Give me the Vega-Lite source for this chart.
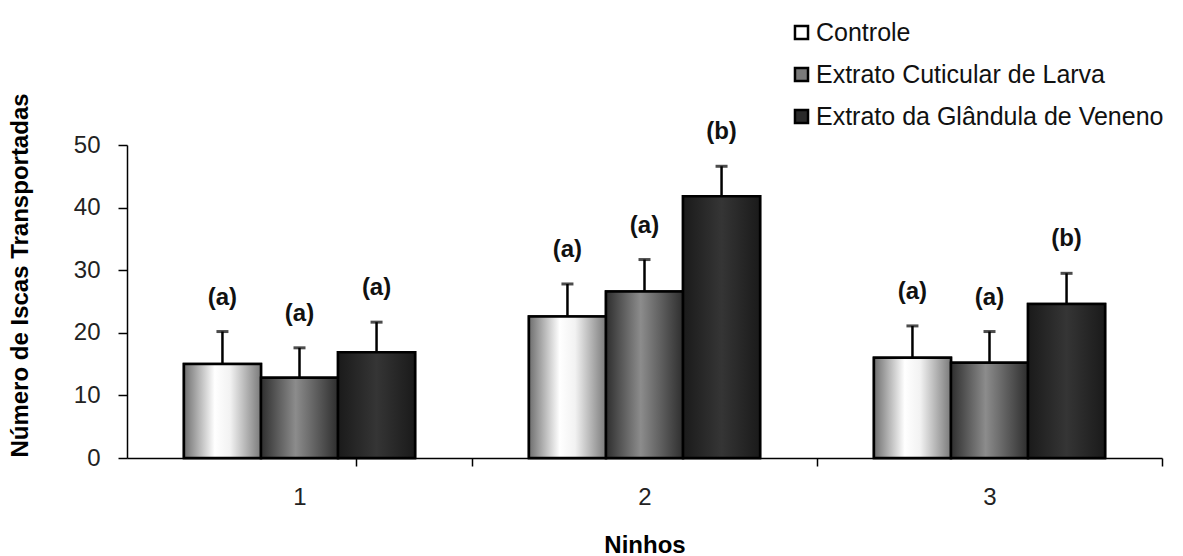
{
  "$schema": "https://vega.github.io/schema/vega-lite/v6.json",
  "autosize": "none",
  "width": 1035,
  "height": 313,
  "padding": {"left": 127, "top": 145, "right": 21, "bottom": 98},
  "background": "white",
  "config": {
    "view": {"stroke": null},
    "font": "Liberation Sans",
    "axis": {"domainColor": "black", "tickColor": "black", "domainWidth": 1.5, "tickWidth": 1.5, "grid": false, "labelFont": "Liberation Sans", "titleFont": "Liberation Sans", "labelColor": "#222", "titleColor": "black"}
  },
  "data": {"values": [
    {"ninho": "1", "tratamento": "Controle", "media": 15.0, "superior": 20.2, "letra": "(a)"},
    {"ninho": "1", "tratamento": "Extrato Cuticular de Larva", "media": 12.8, "superior": 17.6, "letra": "(a)"},
    {"ninho": "1", "tratamento": "Extrato da Glândula de Veneno", "media": 16.9, "superior": 21.7, "letra": "(a)"},
    {"ninho": "2", "tratamento": "Controle", "media": 22.6, "superior": 27.8, "letra": "(a)"},
    {"ninho": "2", "tratamento": "Extrato Cuticular de Larva", "media": 26.6, "superior": 31.7, "letra": "(a)"},
    {"ninho": "2", "tratamento": "Extrato da Glândula de Veneno", "media": 41.8, "superior": 46.6, "letra": "(b)"},
    {"ninho": "3", "tratamento": "Controle", "media": 16.0, "superior": 21.1, "letra": "(a)"},
    {"ninho": "3", "tratamento": "Extrato Cuticular de Larva", "media": 15.2, "superior": 20.2, "letra": "(a)"},
    {"ninho": "3", "tratamento": "Extrato da Glândula de Veneno", "media": 24.6, "superior": 29.5, "letra": "(b)"}
  ]},
  "encoding": {
    "x": {"field": "ninho", "type": "nominal", "scale": {"paddingInner": 0.33, "paddingOuter": 0.165},
      "axis": {"title": "Ninhos", "labelAngle": 0, "labelFontSize": 24, "labelPadding": 19, "tickSize": 8, "tickOffset": 172.5, "labelOffset": -172.5, "tickExtra": true, "titleFontSize": 24, "titleFontWeight": "bold", "titleY": 94, "titleBaseline": "alphabetic"}},
    "xOffset": {"field": "tratamento", "type": "nominal", "scale": {"domain": ["Controle", "Extrato Cuticular de Larva", "Extrato da Glândula de Veneno"], "paddingInner": 0, "paddingOuter": 0}}
  },
  "layer": [
    {
      "mark": {"type": "bar", "stroke": "black", "strokeWidth": 2.5},
      "encoding": {
        "y": {"field": "media", "type": "quantitative", "scale": {"domain": [0, 50], "nice": false},
          "axis": {"title": "Número de Iscas Transportadas", "values": [0, 10, 20, 30, 40, 50], "labelFontSize": 24, "labelPadding": 18, "tickSize": 9, "titleFontSize": 24, "titleFontWeight": "bold", "titleX": -107, "titleY": 130, "titleAngle": -90, "titleAlign": "center", "titleBaseline": "middle"}},
        "color": {"field": "tratamento", "type": "nominal",
          "scale": {"domain": ["Controle", "Extrato Cuticular de Larva", "Extrato da Glândula de Veneno"], "range": ["#ffffff", "#7a7a7a", "#2a2a2a"]},
          "legend": {"title": null, "orient": "none", "legendX": 662, "legendY": -125, "symbolType": "square", "symbolSize": 170, "symbolStrokeColor": "black", "symbolStrokeWidth": 2.5, "labelFontSize": 25, "labelColor": "#111", "labelOffset": 2, "rowPadding": 16, "labelLimit": 0, "padding": 0}}
      }
    },
    {
      "transform": [{"filter": "datum.tratamento == 'Controle'"}],
      "mark": {"type": "bar", "stroke": "black", "strokeWidth": 2.5,
        "fill": {"gradient": "linear", "x1": 0, "x2": 1, "y1": 0, "y2": 0, "stops": [{"offset": 0, "color": "#6e6e6e"}, {"offset": 0.4, "color": "#ffffff"}, {"offset": 0.6, "color": "#f2f2f2"}, {"offset": 1, "color": "#7a7a7a"}]}},
      "encoding": {"y": {"field": "media", "type": "quantitative"}}
    },
    {
      "transform": [{"filter": "datum.tratamento == 'Extrato Cuticular de Larva'"}],
      "mark": {"type": "bar", "stroke": "black", "strokeWidth": 2.5,
        "fill": {"gradient": "linear", "x1": 0, "x2": 1, "y1": 0, "y2": 0, "stops": [{"offset": 0, "color": "#2e2e2e"}, {"offset": 0.45, "color": "#8c8c8c"}, {"offset": 1, "color": "#2e2e2e"}]}},
      "encoding": {"y": {"field": "media", "type": "quantitative"}}
    },
    {
      "transform": [{"filter": "datum.tratamento == 'Extrato da Glândula de Veneno'"}],
      "mark": {"type": "bar", "stroke": "black", "strokeWidth": 2.5,
        "fill": {"gradient": "linear", "x1": 0, "x2": 1, "y1": 0, "y2": 0, "stops": [{"offset": 0, "color": "#1a1a1a"}, {"offset": 0.5, "color": "#353535"}, {"offset": 1, "color": "#1a1a1a"}]}},
      "encoding": {"y": {"field": "media", "type": "quantitative"}}
    },
    {
      "mark": {"type": "rule", "color": "black", "strokeWidth": 2.5},
      "encoding": {"y": {"field": "media", "type": "quantitative"}, "y2": {"field": "superior"}}
    },
    {
      "mark": {"type": "tick", "color": "black", "size": 12, "thickness": 3},
      "encoding": {"y": {"field": "superior", "type": "quantitative"}}
    },
    {
      "mark": {"type": "text", "fontWeight": "bold", "fontSize": 24, "dy": -34, "baseline": "middle", "color": "#111"},
      "encoding": {"y": {"field": "superior", "type": "quantitative"}, "text": {"field": "letra"}}
    }
  ]
}
